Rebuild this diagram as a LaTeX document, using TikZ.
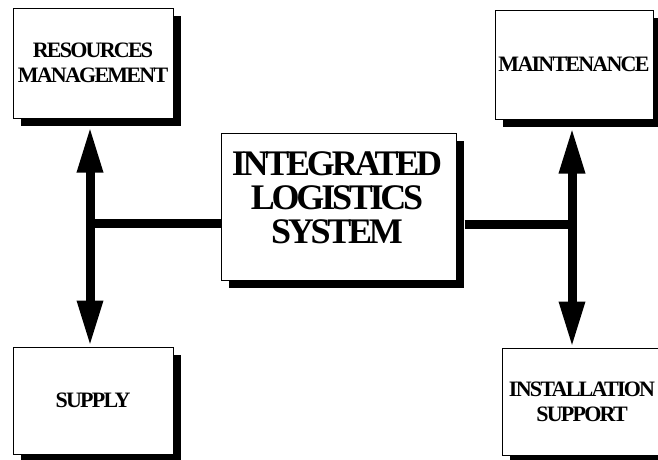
\documentclass[tikz,border=0pt]{standalone}
\usepackage{fontspec}
\setmainfont{Liberation Serif}
\newfontfamily\boxfont[LetterSpace=-8]{Liberation Serif}
\newfontfamily\titlefont[LetterSpace=-9]{Liberation Serif}
\usetikzlibrary{arrows.meta,shadows}

\tikzset{
  box/.style={draw, line width=1pt, fill=white, rectangle, inner sep=0pt,
    align=center,
    general shadow={fill=black, shadow xshift=8pt, shadow yshift=-8pt}},
  lbl/.style={font={\boxfont\bfseries\fontsize{22}{25}\selectfont}},
  title/.style={inner sep=0pt, align=center,
    font={\titlefont\bfseries\fontsize{36}{34}\selectfont}},
  bigtip/.tip={Triangle[length=46pt 0 0, width=24pt 0 0]},
  spine/.style={line width=9pt, bigtip-bigtip},
  bar/.style={line width=9pt}
}

\begin{document}
\begin{tikzpicture}[x=1pt, y=-1pt]
  \useasboundingbox (0,0) rectangle (658,459);
  \clip (0,0) rectangle (658,459);

  % outer boxes
  \node[box, lbl, minimum width=160pt, minimum height=110pt] (res) at (93,63)
    {RESOURCES\\MANAGEMENT};
  \node[box, lbl, minimum width=158pt, minimum height=109pt] (mnt) at (574,64.5)
    {MAINTENANCE};
  \node[box, lbl, minimum width=160pt, minimum height=107pt] (sup) at (93,400.5)
    {SUPPLY};
  \node[box, lbl, minimum width=160pt, minimum height=107pt] (ins) at (582,401.5)
    {INSTALLATION\\SUPPORT};

  % central box and its title
  \node[box, minimum width=235pt, minimum height=147pt] (ils) at (338.5,206.5) {};
  \node[title] (ilstext) at (337,197.5) {INTEGRATED\\LOGISTICS\\SYSTEM};

  % junctions of the two spines
  \coordinate (jl) at (90,223);
  \coordinate (jr) at (572,224);

  % left spine: resources <-> supply
  \draw[spine] ([yshift=-8pt]res.south -| jl) -- (sup.north -| jl);
  \draw[bar] (ils.west |- jl) -- (jl);

  % right spine: maintenance <-> installation support
  \draw[spine] ([yshift=-8pt]mnt.south -| jr) -- (ins.north -| jr);
  \draw[bar] ([xshift=8pt]ils.east |- jr) -- (jr);
\end{tikzpicture}
\end{document}
